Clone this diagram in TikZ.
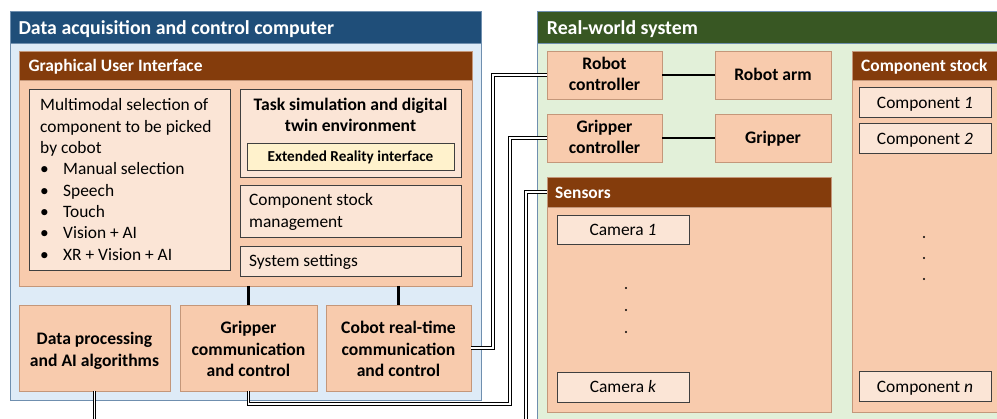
\documentclass[tikz,border=0pt]{standalone}
\usepackage{fontspec}
\setmainfont{Carlito}
\definecolor{hblue}{HTML}{1F4E79}
\definecolor{lblue}{HTML}{DEEBF7}
\definecolor{bblue}{HTML}{6F8FAF}
\definecolor{hbrown}{HTML}{843C0C}
\definecolor{orng}{HTML}{F8CBAD}
\definecolor{orngb}{HTML}{C4977A}
\definecolor{pale}{HTML}{FBE5D6}
\definecolor{paleb}{HTML}{3F3F3F}
\definecolor{hgreen}{HTML}{385723}
\definecolor{lgreen}{HTML}{E2F0D9}
\definecolor{xrfill}{HTML}{FFF2CC}
\newcommand\mkbox[6]{\node[#2, anchor=north west, inner sep=0pt, outer sep=0pt, minimum width={#5pt-#3pt}, minimum height={#6pt-#4pt}] (#1) at (#3,#4) {};}
\tikzset{
  outerb/.style={draw=bblue, line width=0.8pt},
  bluebody/.style={outerb, fill=lblue},
  greenbody/.style={outerb, fill=lgreen},
  bluehead/.style={draw=bblue, line width=0.8pt, fill=hblue},
  greenhead/.style={draw=bblue, line width=0.8pt, fill=hgreen},
  brownhead/.style={draw=orngb, line width=0.6pt, fill=hbrown},
  orbox/.style={draw=orngb, line width=0.8pt, fill=orng},
  palebox/.style={draw=paleb, line width=0.8pt, fill=pale},
  xrbox/.style={draw=paleb, line width=0.8pt, fill=xrfill},
  hdtxt/.style={text=white, font=\bfseries\fontsize{19.8}{23}\selectfont, inner sep=0pt, anchor=base west},
  subhd/.style={text=white, font=\bfseries\fontsize{17.4}{21}\selectfont, inner sep=0pt, anchor=base west},
  txt/.style={font=\fontsize{17.4}{21.3}\selectfont, inner sep=0pt, anchor=base},
  txtl/.style={txt, anchor=base west},
  txtb/.style={txt, font=\bfseries\fontsize{17.6}{21.3}\selectfont},
  xrtxt/.style={font=\bfseries\fontsize{15.2}{18}\selectfont, inner sep=0pt, anchor=base},
  cable/.style={draw=black, line width=0.9pt, double=white, double distance=1.7pt},
  link/.style={draw=black, line width=2.3pt},
}
\begin{document}
\begin{tikzpicture}[x=1pt, y=-1pt]
\useasboundingbox (0,0) rectangle (997,419);
\clip (0,0) rectangle (997,419);
\fill[white] (0,0) rectangle (997,419);
% ---------- left computer ----------
\mkbox{comp}{bluebody}{10}{11}{481}{400}
\mkbox{comph}{bluehead}{10}{11}{481}{43}
\node[hdtxt] (comptxt) at (18.3,35) {Data acquisition and control computer};
\mkbox{gui}{orbox}{19}{51}{472}{286}
\mkbox{guih}{brownhead}{19}{51}{472}{80}
\node[subhd] (guitxt) at (28.3,71.7) {Graphical User Interface};
\mkbox{multi}{palebox}{29}{89}{230}{270}
\node[txtl] (m1) at (40,111) {Multimodal selection of};
\node[txtl] (m2) at (40,132.3) {component to be picked};
\node[txtl] (m3) at (40,153.6) {by cobot};
\node[txtl] (b1) at (40,174.9) {•};\node[txtl] (m4) at (63,174.9) {Manual selection};
\node[txtl] (b2) at (40,196.2) {•};\node[txtl] (m5) at (63,196.2) {Speech};
\node[txtl] (b3) at (40,217.5) {•};\node[txtl] (m6) at (63,217.5) {Touch};
\node[txtl] (b4) at (40,238.8) {•};\node[txtl] (m7) at (63,238.8) {Vision + AI};
\node[txtl] (b5) at (40,260.1) {•};\node[txtl] (m8) at (63,260.1) {XR + Vision + AI};
\mkbox{task}{palebox}{240}{89}{461}{177}
\node[txtb] (t1) at (350.5,111) {Task simulation and digital};
\node[txtb] (t2) at (350.5,132) {twin environment};
\mkbox{xr}{xrbox}{247}{143}{454}{170}
\node[xrtxt] (xrt) at (350.5,161.5) {Extended Reality interface};
\mkbox{csm}{palebox}{240}{185}{461}{237}
\node[txtl] (c1) at (249,206) {Component stock};
\node[txtl] (c2) at (249,227.3) {management};
\mkbox{sys}{palebox}{240}{246}{461}{276}
\node[txtl] (s1) at (249,267) {System settings};
\mkbox{dproc}{orbox}{19}{305}{170}{391}
\node[txtb] (d1) at (94.5,345) {Data processing};
\node[txtb] (d2) at (94.5,366.3) {and AI algorithms};
\mkbox{gcomm}{orbox}{180}{305}{317}{391}
\node[txtb] (g1) at (248.5,334) {Gripper};
\node[txtb] (g2) at (248.5,355.3) {communication};
\node[txtb] (g3) at (248.5,376.6) {and control};
\mkbox{cobot}{orbox}{326}{305}{471}{391}
\node[txtb] (k1) at (398.5,334) {Cobot real-time};
\node[txtb] (k2) at (398.5,355.3) {communication};
\node[txtb] (k3) at (398.5,376.6) {and control};
\draw[link] (gui.south -| gcomm.north) -- (gcomm.north);
\draw[link] (gui.south -| cobot.north) -- (cobot.north);
% ---------- right real world ----------
\mkbox{rw}{greenbody}{537}{11}{1010}{422}
\mkbox{rwh}{greenhead}{537}{11}{1010}{43}
\node[hdtxt] (rwtxt) at (546.7,34.3) {Real-world system};
\mkbox{rctrl}{orbox}{547}{51}{662}{99}
\node[txtb] (r1) at (604.5,70) {Robot};
\node[txtb] (r2) at (604.5,91) {controller};
\mkbox{gctrl}{orbox}{547}{114}{662}{162}
\node[txtb] (q1) at (604.5,133) {Gripper};
\node[txtb] (q2) at (604.5,154) {controller};
\mkbox{rarm}{orbox}{715}{51}{831}{99}
\node[txtb] (ra) at (773,80.7) {Robot arm};
\mkbox{grip}{orbox}{715}{114}{831}{162}
\node[txtb] (gr) at (773,144) {Gripper};
\draw[link] (rctrl.east) -- (rarm.west);
\draw[link] (gctrl.east) -- (grip.west);
\mkbox{sens}{orbox}{547}{177}{831}{412}
\mkbox{sensh}{brownhead}{547}{177}{831}{207}
\node[subhd] (senstxt) at (555,198.3) {Sensors};
\mkbox{cam1}{palebox}{557}{215}{689}{244}
\node[txt] (cam1t) at (623,235.7) {Camera \textit{1}};
\mkbox{camk}{palebox}{557}{372}{689}{402}
\node[txt] (camkt) at (623,392.7) {Camera \textit{k}};
\fill (626,288) circle (1.1) (626,310) circle (1.1) (626,332) circle (1.1);
\mkbox{stock}{orbox}{852}{51}{1001}{412}
\mkbox{stockh}{brownhead}{852}{51}{1001}{80}
\node[subhd] (stocktxt) at (861,71.7) {Component stock};
\mkbox{cp1}{palebox}{859}{87}{991}{117}
\node[txt] (cp1t) at (925,108.3) {Component \textit{1}};
\mkbox{cp2}{palebox}{859}{123}{991}{153}
\node[txt] (cp2t) at (925,145) {Component \textit{2}};
\mkbox{cpn}{palebox}{859}{371}{991}{401}
\node[txt] (cpnt) at (925,392.7) {Component \textit{n}};
\fill (924,237) circle (1.1) (924,258) circle (1.1) (924,279) circle (1.1);
% ---------- cables ----------
\coordinate (v1) at (493,0);
\coordinate (v2) at (510,404);
\coordinate (v3) at (526,430);
\coordinate (v4) at (526,421.5);
\draw[cable] (cobot.east) -| (v1 |- rctrl.west) -- (rctrl.west);
\draw[cable] (gcomm.south) |- (v2) |- (gctrl.west);
\draw[cable] (sensh.west) -| (v3);
\draw[cable] (dproc.south) |- (v4);
\end{tikzpicture}
\end{document}
